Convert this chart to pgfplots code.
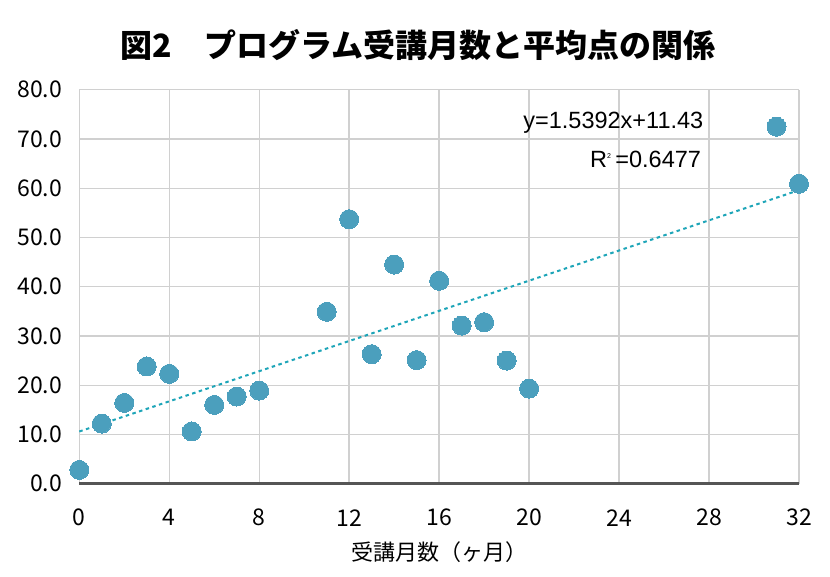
\documentclass[border=0pt]{standalone}
\usepackage{pgfplots}
\pgfplotsset{compat=1.18}
\usepackage{fontspec}
\setmainfont{Noto Sans CJK JP}
\newfontfamily\lat{Liberation Sans}
\definecolor{dotc}{HTML}{4B9FBD}
\definecolor{trendc}{HTML}{1EA5B8}
\definecolor{gridc}{HTML}{D0D0D0}
\definecolor{axc}{HTML}{555555}
\begin{document}
\begin{tikzpicture}
\useasboundingbox (-79.3pt,-92.3pt) rectangle (750.7pt,483.7pt);
\begin{axis}[
  at={(0,0)}, anchor=south west,
  scale only axis, width=719.7pt, height=394pt,
  xmin=0, xmax=32, ymin=0, ymax=80,
  xtick={0,4,...,32}, ytick={0,10,...,80},
  yticklabel={\pgfmathprintnumber[fixed,fixed zerofill,precision=1]{\tick}},
  /pgf/number format/assume math mode=true,
  major tick length=0pt,
  grid=major,
  grid style={gridc, line width=1.4pt},
  axis x line*=bottom, axis y line*=left,
  x axis line style={axc, line width=2.6pt},
  y axis line style={draw=none},
  tick label style={font=\fontsize{23}{26}\selectfont, black},
  xticklabel style={anchor=center, yshift=-34pt},
  yticklabel style={anchor=east, inner sep=0pt, xshift=-17pt},
  xlabel={受講月数（ヶ月）},
  xlabel style={font=\fontsize{22}{25}\selectfont, at={(axis description cs:0.5,0)}, anchor=center, yshift=-68pt},
  clip=false,
]
\addplot[trendc, line width=2pt, dash pattern=on 3.5pt off 3.5pt] coordinates {(0,10.6) (32,59.6)};
\addplot[only marks, mark=*, mark size=9.5pt, color=dotc, mark options={fill=dotc, draw=dotc, line width=0pt}] coordinates {
(0,2.8) (1,12.2) (2,16.4) (3,23.8) (4,22.3) (5,10.6) (6,16.0) (7,17.7) (8,18.9)
(11,34.9) (12,53.7) (13,26.3) (14,44.5) (15,25.1) (16,41.2) (17,32.1) (18,32.8)
(19,25.0) (20,19.3) (31,72.5) (32,60.9)
};
\node[anchor=east, font=\lat\fontsize{23.5}{27}\selectfont] at (axis cs:27.9,73.3) {y=1.5392x+11.43};
\node[anchor=east, font=\lat\fontsize{23.5}{27}\selectfont] at (axis cs:27.8,65.8) {R\textsuperscript{\fontsize{7}{8}\selectfont 2}\,=0.6477};
\end{axis}
\node[font=\fontsize{32}{36}\bfseries\selectfont] at (338.7pt,438.7pt) {図2　プログラム受講月数と平均点の関係};
\end{tikzpicture}
\end{document}
